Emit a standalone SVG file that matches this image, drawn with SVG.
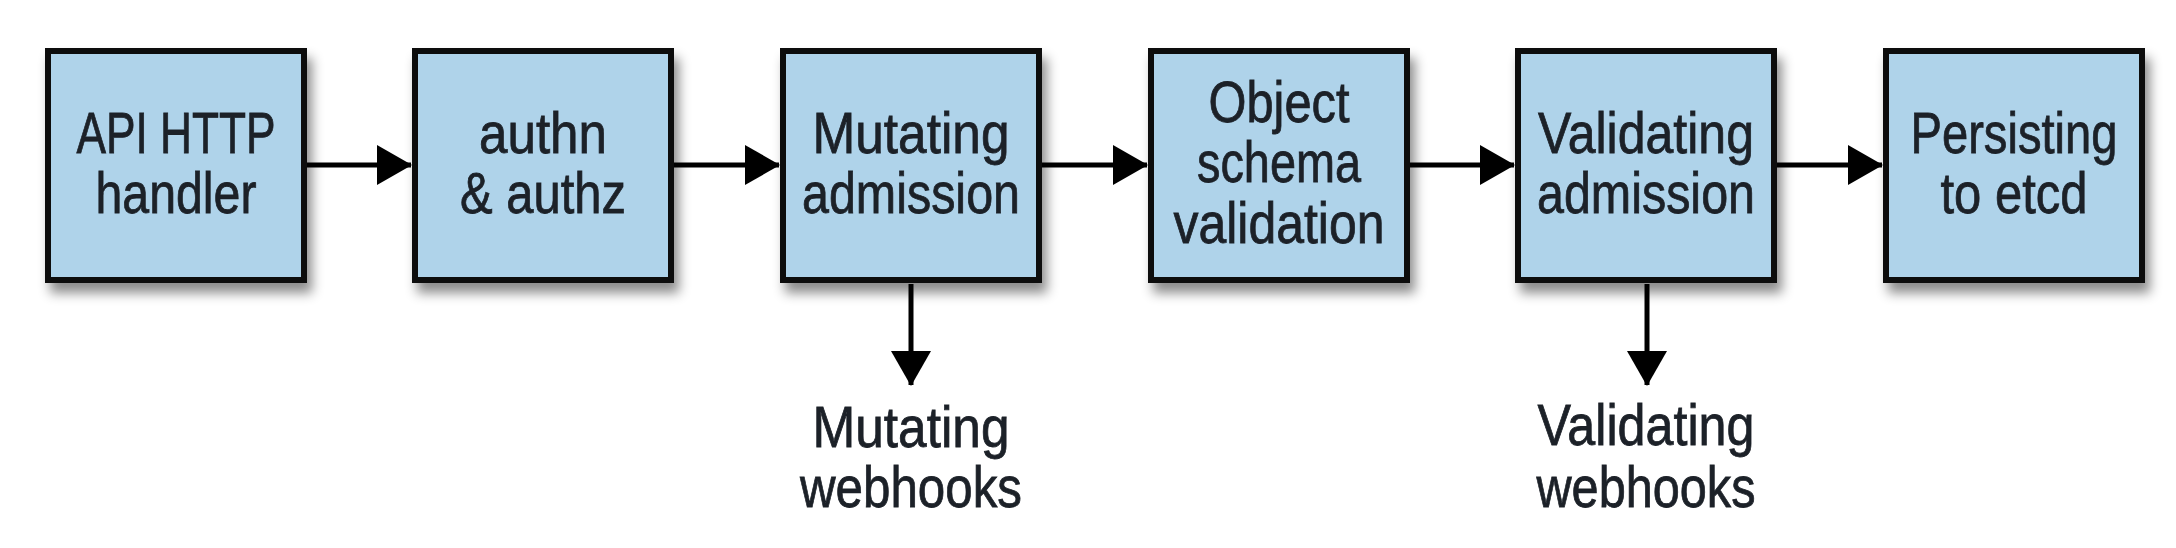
<svg xmlns="http://www.w3.org/2000/svg" width="2176" height="548" viewBox="0 0 2176 548">
<style>
.box{fill:#afd3ea;stroke:#111;stroke-width:6;filter:url(#sh)}
.t{font-family:"Liberation Sans",Arial,sans-serif;font-size:58px;fill:#1c2128;stroke:#1c2128;stroke-width:0.8;text-anchor:middle}
.c{stroke:#000;stroke-width:5;fill:none;marker-end:url(#ah)}
</style>
<defs>
<filter id="sh" x="-10%" y="-10%" width="130%" height="130%">
<feDropShadow dx="5" dy="10" stdDeviation="6" flood-color="#000" flood-opacity="0.45"/>
</filter>
<marker id="ah" markerUnits="userSpaceOnUse" markerWidth="36" markerHeight="40" refX="34" refY="20" orient="auto">
<path d="M0,0 L35,20 L0,40 Z" fill="#000"/>
</marker>
</defs>
<g id="connectors">
<line class="c" x1="307" y1="165" x2="411" y2="165"/>
<line class="c" x1="674" y1="165" x2="779" y2="165"/>
<line class="c" x1="1042" y1="165" x2="1147" y2="165"/>
<line class="c" x1="1410" y1="165" x2="1514" y2="165"/>
<line class="c" x1="1777" y1="165" x2="1882" y2="165"/>
<line class="c" x1="911" y1="284" x2="911" y2="385"/>
<line class="c" x1="1647" y1="284" x2="1647" y2="385"/>
</g>
<g id="n1">
<rect class="box" x="48" y="51" width="256" height="229"/>
<text class="t" x="176" y="153" textLength="199" lengthAdjust="spacingAndGlyphs">API HTTP</text>
<text class="t" x="176" y="213" textLength="161" lengthAdjust="spacingAndGlyphs">handler</text>
</g>
<g id="n2">
<rect class="box" x="415" y="51" width="256" height="229"/>
<text class="t" x="543" y="153" textLength="128" lengthAdjust="spacingAndGlyphs">authn</text>
<text class="t" x="543" y="213" textLength="166" lengthAdjust="spacingAndGlyphs">&amp; authz</text>
</g>
<g id="n3">
<rect class="box" x="783" y="51" width="256" height="229"/>
<text class="t" x="911" y="153" textLength="197" lengthAdjust="spacingAndGlyphs">Mutating</text>
<text class="t" x="911" y="213" textLength="218" lengthAdjust="spacingAndGlyphs">admission</text>
</g>
<g id="n4">
<rect class="box" x="1151" y="51" width="256" height="229"/>
<text class="t" x="1279" y="122" textLength="141" lengthAdjust="spacingAndGlyphs">Object</text>
<text class="t" x="1279" y="182" textLength="164" lengthAdjust="spacingAndGlyphs">schema</text>
<text class="t" x="1279" y="243" textLength="211" lengthAdjust="spacingAndGlyphs">validation</text>
</g>
<g id="n5">
<rect class="box" x="1518" y="51" width="256" height="229"/>
<text class="t" x="1646" y="153" textLength="216" lengthAdjust="spacingAndGlyphs">Validating</text>
<text class="t" x="1646" y="213" textLength="218" lengthAdjust="spacingAndGlyphs">admission</text>
</g>
<g id="n6">
<rect class="box" x="1886" y="51" width="256" height="229"/>
<text class="t" x="2014" y="153" textLength="207" lengthAdjust="spacingAndGlyphs">Persisting</text>
<text class="t" x="2014" y="213" textLength="147" lengthAdjust="spacingAndGlyphs">to etcd</text>
</g>
<g id="n7">
<text class="t" x="911" y="447" textLength="197" lengthAdjust="spacingAndGlyphs">Mutating</text>
<text class="t" x="911" y="507" textLength="222" lengthAdjust="spacingAndGlyphs">webhooks</text>
</g>
<g id="n8">
<text class="t" x="1646" y="445" textLength="217" lengthAdjust="spacingAndGlyphs">Validating</text>
<text class="t" x="1646" y="507" textLength="219" lengthAdjust="spacingAndGlyphs">webhooks</text>
</g>
</svg>
